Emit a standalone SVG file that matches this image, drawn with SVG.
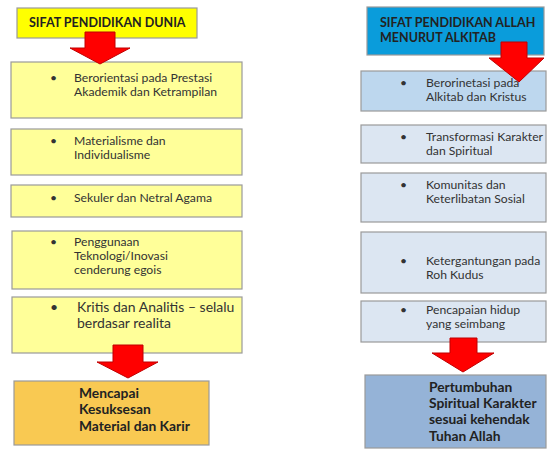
<svg xmlns="http://www.w3.org/2000/svg" width="548" height="450" viewBox="0 0 548 450">
<defs>
<style>
.box{stroke:#9a9a9a;stroke-width:1.2}
.t{font-family:Lato,"Liberation Sans",sans-serif;font-size:12.2px;fill:#333}
.tb{font-family:Lato,"Liberation Sans",sans-serif;font-size:12.5px;font-weight:bold;fill:#222}
.rb{font-family:Lato,"Liberation Sans",sans-serif;font-size:13.8px;font-weight:bold;fill:#222}
.big{font-size:14px}
.arrow{fill:#ff0000;stroke:#c00000;stroke-width:1}
.yl{fill:#ffff99}
.bl{fill:#dce6f2}
</style>
</defs>
<rect width="548" height="450" fill="#fff"/>
<g id="left-title"><rect class="box" x="17" y="8" width="180" height="30" fill="#ffff00"/><text class="tb" x="29" y="27">SIFAT PENDIDIKAN DUNIA</text></g>
<g id="left-1"><rect class="box yl" x="11" y="62" width="231" height="56"/><text class="t" x="50" y="82">•</text><text class="t" x="74" y="82">Berorientasi pada Prestasi</text><text class="t" x="74" y="96">Akademik dan Ketrampilan</text></g>
<g id="left-2"><rect class="box yl" x="11" y="129" width="231" height="46"/><text class="t" x="50" y="145">•</text><text class="t" x="74" y="145">Materialisme dan</text><text class="t" x="74" y="159">Individualisme</text></g>
<g id="left-3"><rect class="box yl" x="11" y="185" width="231" height="32"/><text class="t" x="50" y="202">•</text><text class="t" x="74" y="202">Sekuler dan Netral Agama</text></g>
<g id="left-4"><rect class="box yl" x="12" y="231" width="230" height="58"/><text class="t" x="50" y="246">•</text><text class="t" x="74" y="246">Penggunaan</text><text class="t" x="74" y="260">Teknologi/Inovasi</text><text class="t" x="74" y="274">cenderung egois</text></g>
<g id="left-5"><rect class="box yl" x="12" y="297" width="230" height="56"/><text class="t big" x="50" y="312">•</text><text class="t big" x="77" y="312">Kritis dan Analitis – selalu</text><text class="t big" x="77" y="328">berdasar realita</text></g>
<g id="left-result"><rect class="box" x="14" y="381" width="195" height="64" fill="#f9c952"/><text class="rb" x="79" y="398">Mencapai</text><text class="rb" x="79" y="414">Kesuksesan</text><text class="rb" x="79" y="431">Material dan Karir</text></g>
<g id="right-title"><rect class="box" x="367" y="7" width="177" height="48" fill="#0a9cdb"/><text class="tb" x="380" y="27">SIFAT PENDIDIKAN ALLAH</text><text class="tb" x="380" y="42">MENURUT ALKITAB</text></g>
<g id="right-1"><rect class="box" x="361" y="71" width="185" height="40" fill="#bdd7ee"/><text class="t" x="400" y="87">•</text><text class="t" x="426" y="87">Berorinetasi pada</text><text class="t" x="426" y="101">Alkitab dan Kristus</text></g>
<g id="right-2"><rect class="box bl" x="361" y="125" width="185" height="38"/><text class="t" x="400" y="141">•</text><text class="t" x="426" y="141">Transformasi Karakter</text><text class="t" x="426" y="155">dan Spiritual</text></g>
<g id="right-3"><rect class="box bl" x="361" y="173" width="185" height="49"/><text class="t" x="400" y="189">•</text><text class="t" x="426" y="189">Komunitas dan</text><text class="t" x="426" y="203">Keterlibatan Sosial</text></g>
<g id="right-4"><rect class="box bl" x="361" y="232" width="185" height="61"/><text class="t" x="400" y="265">•</text><text class="t" x="426" y="265">Ketergantungan pada</text><text class="t" x="426" y="279">Roh Kudus</text></g>
<g id="right-5"><rect class="box bl" x="361" y="301" width="185" height="41"/><text class="t" x="400" y="314">•</text><text class="t" x="426" y="314">Pencapaian hidup</text><text class="t" x="426" y="328">yang seimbang</text></g>
<g id="right-result"><rect class="box" x="365" y="375" width="181" height="73" fill="#95b3d7"/><text class="rb" x="429" y="392">Pertumbuhan</text><text class="rb" x="429" y="408">Spiritual Karakter</text><text class="rb" x="429" y="424">sesuai kehendak</text><text class="rb" x="429" y="441">Tuhan Allah</text></g>
<g id="connectors">
<polygon class="arrow" points="85,32 115,32 115,48 130,48 100,64 70,48 85,48"/>
<polygon class="arrow" points="113,345 143,345 143,362 158,362 128,378 97,362 113,362"/>
<polygon class="arrow" points="501,42 527,42 527,58 544,58 519,82 489,58 501,58"/>
<polygon class="arrow" points="450,338 477,338 477,353 494,353 463,372 432,353 450,353"/>
</g>
</svg>
